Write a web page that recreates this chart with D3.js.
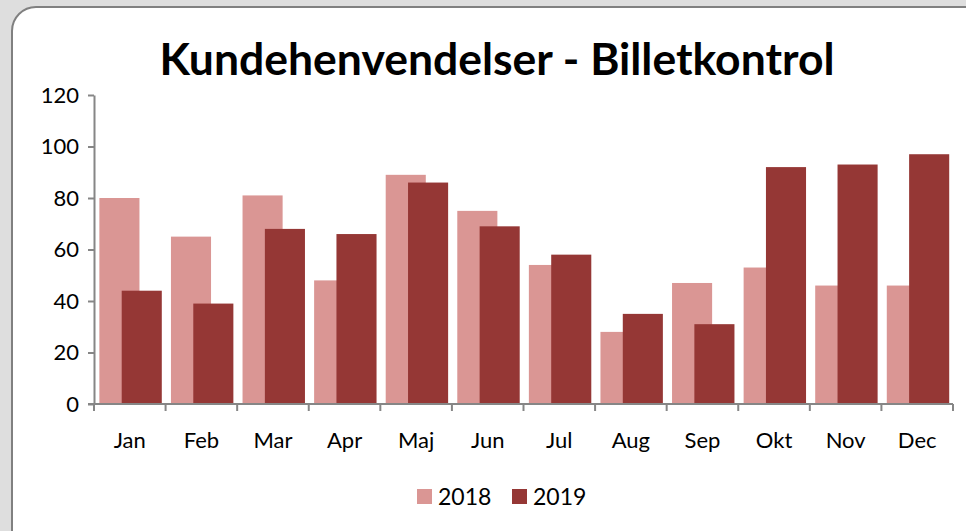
<!DOCTYPE html>
<html>
<head>
<meta charset="utf-8">
<script src="https://cdn.jsdelivr.net/npm/d3@7"></script>
<style>
  html, body { margin: 0; padding: 0; background: #dedede; }
  svg { display: block; }
</style>
</head>
<body>
<svg id="chart"></svg>
<script>
const months = ["Jan", "Feb", "Mar", "Apr", "Maj", "Jun", "Jul", "Aug", "Sep", "Okt", "Nov", "Dec"];
const years = ["2018", "2019"];
const values2018 = [80, 65, 81, 48, 89, 75, 54, 28, 47, 53, 46, 46];
const values2019 = [44, 39, 68, 66, 86, 69, 58, 35, 31, 92, 93, 97];
const yTicks = [0, 20, 40, 60, 80, 100, 120];
const colors = { "2018": "#da9694", "2019": "#953735" };

const width = 966;
const height = 531;
const marginTop = 95;
const marginBottom = 127; // baseline at y=404
const marginLeft = 94;
const marginRight = 13;
const labelFont = "Lato, 'Open Sans', sans-serif";

const svg = d3.select("#chart").attr("width", width).attr("height", height);

// panel
svg.append("rect")
  .attr("x", 12).attr("y", 7)
  .attr("width", 980).attr("height", 560)
  .attr("rx", 24).attr("ry", 24)
  .attr("fill", "#fff")
  .attr("stroke", "#808080")
  .attr("stroke-width", 2);

// title
svg.append("text")
  .attr("x", 497)
  .attr("y", 75)
  .attr("text-anchor", "middle")
  .attr("font-family", labelFont)
  .attr("font-weight", "bold")
  .attr("font-size", 44)
  .attr("textLength", 675)
  .attr("lengthAdjust", "spacingAndGlyphs")
  .attr("fill", "#000")
  .text("Kundehenvendelser - Billetkontrol");

const xScale = d3.scaleBand()
  .domain(months)
  .range([marginLeft, width - marginRight]);

const bw = xScale.bandwidth();
const sub = d3.scalePoint()
  .domain(years)
  .range([bw * 0.075, bw * 0.387]);
const barW = bw * 0.56;

const yScale = d3.scaleLinear()
  .domain([0, 120])
  .range([height - marginBottom, marginTop]);

const rows = months.map((m, i) => ({ month: m, "2018": values2018[i], "2019": values2019[i] }));

// bars, 2018 first so 2019 lies on top
years.forEach((yr) => {
  svg.append("g")
    .attr("class", "bars-" + yr)
    .selectAll("rect")
    .data(rows)
    .join("rect")
    .attr("x", (d) => xScale(d.month) + sub(yr))
    .attr("y", (d) => yScale(d[yr]))
    .attr("width", barW)
    .attr("height", (d) => yScale(0) - yScale(d[yr]))
    .attr("fill", colors[yr]);
});

// y axis
const yAxis = svg.append("g")
  .attr("transform", `translate(${marginLeft},0)`)
  .call(d3.axisLeft(yScale).tickValues(yTicks).tickSize(6).tickPadding(9).tickSizeOuter(0));
yAxis.select(".domain").attr("stroke", "#868686").attr("stroke-width", 2);
yAxis.selectAll(".tick line").attr("stroke", "#868686").attr("stroke-width", 2);
yAxis.selectAll("text")
  .attr("font-family", labelFont)
  .attr("font-size", 22)
  .attr("fill", "#000");

// x axis
const xAxis = svg.append("g")
  .attr("transform", `translate(0,${yScale(0)})`)
  .call(d3.axisBottom(xScale).tickSize(0).tickPadding(28));
xAxis.select(".domain").attr("stroke", "#868686").attr("stroke-width", 2)
  .attr("d", `M${marginLeft - 6},0H${width - marginRight}`);
xAxis.selectAll("text")
  .attr("font-family", labelFont)
  .attr("font-size", 22)
  .attr("fill", "#000");

// category separators on the x axis
svg.append("g")
  .selectAll("line")
  .data(months.concat(["end"]))
  .join("line")
  .attr("x1", (d) => d === "end" ? xScale.range()[1] : xScale(d))
  .attr("x2", (d) => d === "end" ? xScale.range()[1] : xScale(d))
  .attr("y1", yScale(0))
  .attr("y2", yScale(0) + 7)
  .attr("stroke", "#868686")
  .attr("stroke-width", 2);

// legend
const legend = svg.append("g").attr("transform", "translate(417,489)");
const legendX = { "2018": 0, "2019": 95 };
years.forEach((yr) => {
  const g = legend.append("g").attr("transform", `translate(${legendX[yr]},0)`);
  g.append("rect").attr("width", 15).attr("height", 15).attr("fill", colors[yr]);
  g.append("text")
    .attr("x", 21)
    .attr("y", 16)
    .attr("font-family", labelFont)
    .attr("font-size", 23)
    .attr("fill", "#000")
    .text(yr);
});
</script>
</body>
</html>
